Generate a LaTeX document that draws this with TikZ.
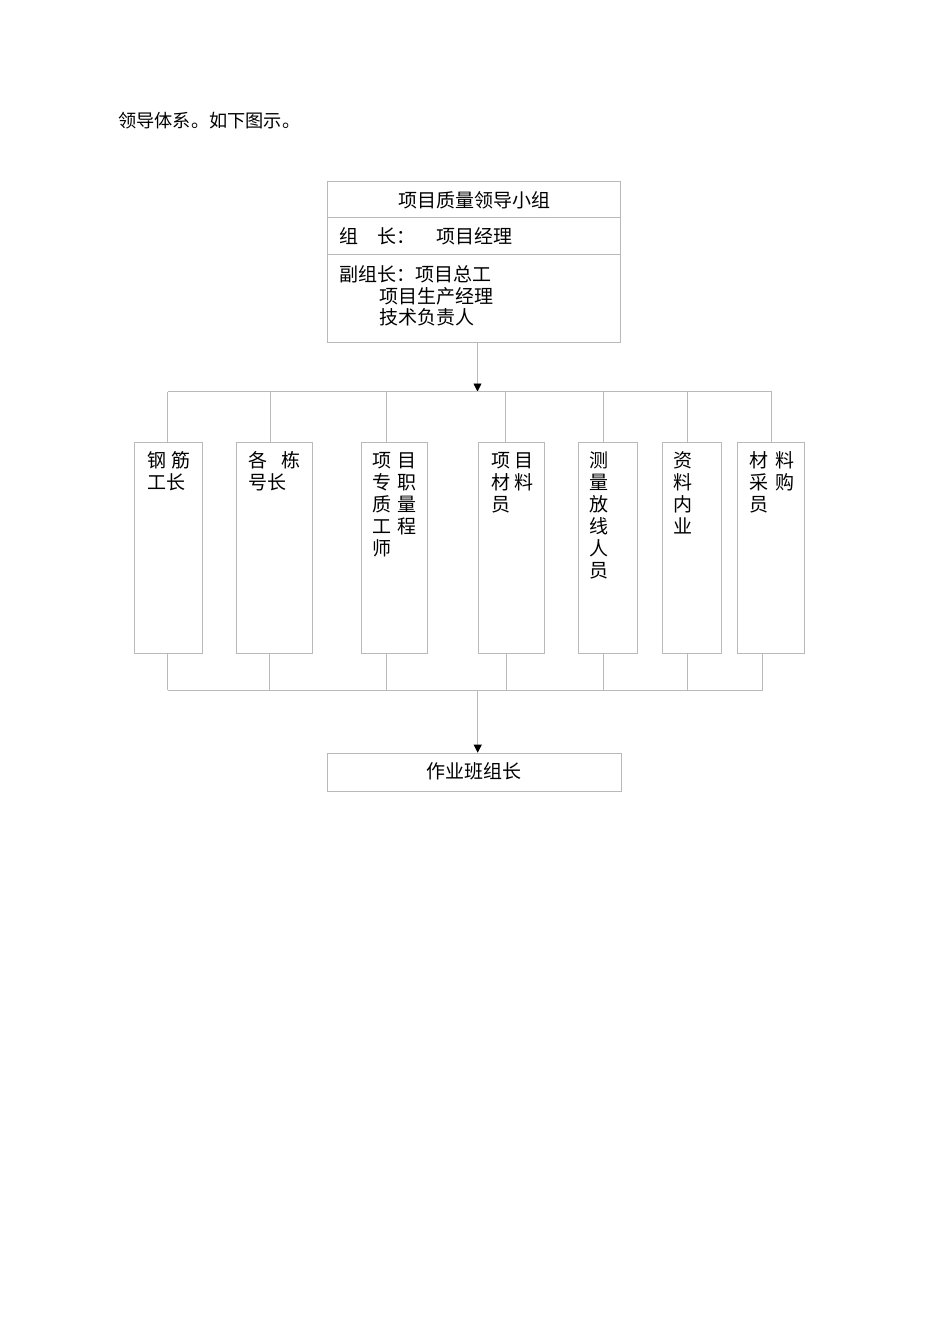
\documentclass[tikz,border=0pt]{standalone}
\usepackage{fontspec}
\setmainfont{Noto Sans CJK SC}
\usetikzlibrary{arrows.meta}
\begin{document}
\begin{tikzpicture}[x=1pt,y=-1pt,
  ln/.style={draw=gray!55, line width=0.8pt},
  box/.style={ln, rectangle, inner sep=0pt, anchor=north west},
  txt/.style={inner sep=0pt, anchor=base west, font=\fontsize{19pt}{22pt}\selectfont},
  arr/.style={ln, -{Triangle[length=8pt,width=8pt,color=black]}}]
\fill[white] (0,0) rectangle (950,1344);
\useasboundingbox (0,0) rectangle (950,1344);

% heading
\node[txt, font=\fontsize{18.2pt}{22pt}\selectfont] (head) at (118,127) {领导体系。如下图示。};

% top box
\node[box, minimum width=293pt, minimum height=161.3pt] (top) at (327.3,180.7) {};
\draw[ln] (top.west |- 0,217.3) coordinate (d1l) -- (top.east |- 0,217.3) coordinate (d1r);
\draw[ln] (top.west |- 0,254.3) coordinate (d2l) -- (top.east |- 0,254.3) coordinate (d2r);
\node[txt, anchor=base] (title) at (474,207) {项目质量领导小组};
\node[txt] (lead) at (339,243) {组\hspace{19pt}长：\hspace{21pt}项目经理};
\node[txt] (dep1) at (339,281) {副组长：项目总工};
\node[txt] (dep2) at (379,303) {项目生产经理};
\node[txt] (dep3) at (379,324) {技术负责人};

% middle boxes
\node[box, minimum width=67.4pt, minimum height=211.6pt] (b1) at (134.3,441.7) {};
\node[box, minimum width=75.4pt, minimum height=211.6pt] (b2) at (236.3,441.7) {};
\node[box, minimum width=66.6pt, minimum height=211.6pt] (b3) at (360.7,441.7) {};
\node[box, minimum width=66.6pt, minimum height=211.6pt] (b4) at (477.7,441.7) {};
\node[box, minimum width=58.4pt, minimum height=211.6pt] (b5) at (578.3,441.7) {};
\node[box, minimum width=58.4pt, minimum height=211.6pt] (b6) at (662.3,441.7) {};
\node[box, minimum width=67pt, minimum height=211.6pt] (b7) at (737.3,441.7) {};

\node[txt] (t1) at (147,467) {\vtop{\hbox{\makebox[43pt][s]{钢\hfill 筋}}\hbox{工长}}};
\node[txt] (t2) at (248,467) {\vtop{\hbox{\makebox[52pt][s]{各\hfill 栋}}\hbox{号长}}};
\node[txt] (t3) at (372,467) {\vtop{\hbox{\makebox[44pt][s]{项\hfill 目}}\hbox{\makebox[44pt][s]{专\hfill 职}}\hbox{\makebox[44pt][s]{质\hfill 量}}\hbox{\makebox[44pt][s]{工\hfill 程}}\hbox{师}}};
\node[txt] (t4) at (491,467) {\vtop{\hbox{\makebox[42.5pt][s]{项\hfill 目}}\hbox{\makebox[42.5pt][s]{材\hfill 料}}\hbox{员}}};
\node[txt] (t5) at (589.5,467) {\vtop{\hbox{测}\hbox{量}\hbox{放}\hbox{线}\hbox{人}\hbox{员}}};
\node[txt] (t6) at (673,467) {\vtop{\hbox{资}\hbox{料}\hbox{内}\hbox{业}}};
\node[txt] (t7) at (749,467) {\vtop{\hbox{\makebox[45pt][s]{材\hfill 料}}\hbox{\makebox[45pt][s]{采\hfill 购}}\hbox{员}}};

% bottom box
\node[box, minimum width=293.4pt, minimum height=38pt] (bot) at (327.3,752.7) {};
\node[txt, anchor=base] (botl) at (474,778) {作业班组长};

% top bus
\coordinate (ta) at (477.5,391.5);
\draw[arr] (top.south -| ta) -- (ta);
\coordinate (u1) at (167.7,391.5);
\coordinate (u2) at (270.3,391.5);
\coordinate (u3) at (386.7,391.5);
\coordinate (u4) at (505.7,391.5);
\coordinate (u5) at (603.7,391.5);
\coordinate (u6) at (687.7,391.5);
\coordinate (u7) at (771.7,391.5);
\draw[ln] (u1) -- (u7);
\foreach \i in {1,...,7} { \draw[ln] (u\i) -- (u\i |- b\i.north); }

% bottom bus
\coordinate (w1) at (167.7,690);
\coordinate (w2) at (269.3,690);
\coordinate (w3) at (386.7,690);
\coordinate (w4) at (506.3,690);
\coordinate (w5) at (603.7,690);
\coordinate (w6) at (687.7,690);
\coordinate (w7) at (762.7,690);
\draw[ln] (w1) -- (w7);
\foreach \i in {1,...,7} { \draw[ln] (w\i |- b\i.south) -- (w\i); }
\coordinate (ba) at (477.7,690);
\draw[arr] (ba) -- (ba |- bot.north);
\end{tikzpicture}
\end{document}
